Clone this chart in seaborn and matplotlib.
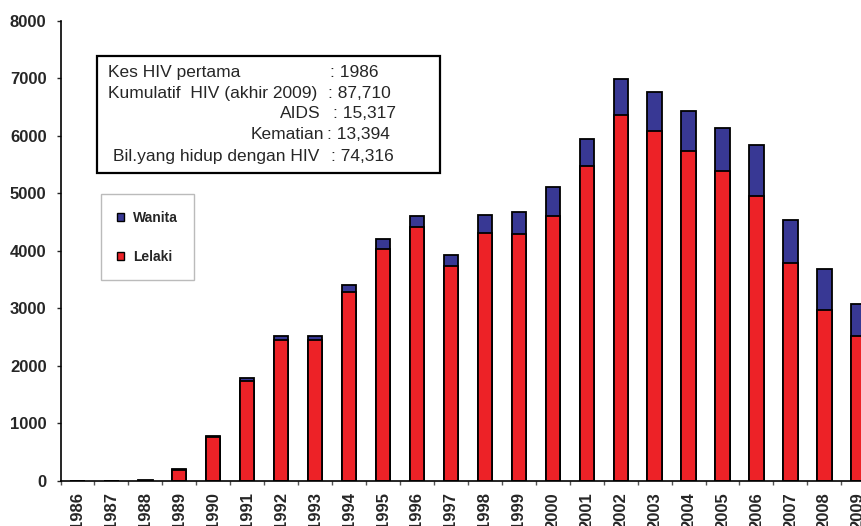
import numpy as np
import pandas as pd
import matplotlib
matplotlib.use("Agg")
import matplotlib.pyplot as plt
from matplotlib.patches import Patch, Rectangle
import seaborn as sns

# data
years = [str(y) for y in range(1986, 2010)]
lelaki = [3, 5, 8, 195, 765, 1738, 2444, 2444, 3290, 4036, 4408, 3736,
          4312, 4300, 4614, 5474, 6354, 6087, 5739, 5387, 4957, 3786, 2973, 2523]
wanita = [0, 0, 1, 5, 15, 57, 74, 70, 110, 175, 202, 197,
          306, 380, 488, 474, 631, 678, 695, 741, 887, 757, 710, 547]
yticks = [0, 1000, 2000, 3000, 4000, 5000, 6000, 7000, 8000]

info_labels = ["Kes HIV pertama", "Kumulatif  HIV (akhir 2009)", "AIDS",
               "Kematian", "Bil.yang hidup dengan HIV"]
info_values = [": 1986", ": 87,710", ": 15,317", ": 13,394", ": 74,316"]

RED = "#ED2227"
BLUE = "#383894"
W, H = 861, 526


def fx(px):  # pixel -> figure fraction
    return px / W


def fy(py):
    return 1 - py / H


def main():
    sns.set_style("ticks")
    plt.rcParams["font.family"] = ["Liberation Sans", "DejaVu Sans"]

    frame = pd.DataFrame({"year": years, "lelaki": lelaki, "wanita": wanita})
    frame["total"] = frame["lelaki"] + frame["wanita"]

    fig = plt.figure(figsize=(W / 100, H / 100), dpi=100)
    # axes runs past the right edge like the original (2009 bar is cut off)
    ax = fig.add_axes([fx(60.5), fy(481), fx(814.8), (481 - 20.7) / H])

    sns.barplot(data=frame, x="year", y="total", color=BLUE, saturation=1,
                edgecolor="black", linewidth=1.3, width=0.42, ax=ax)
    sns.barplot(data=frame, x="year", y="lelaki", color=RED, saturation=1,
                edgecolor="black", linewidth=1.3, width=0.42, ax=ax)

    ax.set_xlim(-0.5, len(years) - 0.5)
    ax.set_ylim(0, 8000)
    ax.set_yticks(yticks)
    ax.set_xlabel("")
    ax.set_ylabel("")
    sns.despine(ax=ax)
    for s in ["left", "bottom"]:
        ax.spines[s].set_linewidth(1.2)
        ax.spines[s].set_color("black")

    ax.set_xticks(range(len(years)))
    ax.set_xticklabels(years, rotation=90, fontsize=12, fontweight="bold")
    ax.set_xticks(np.arange(-0.5, len(years), 1), minor=True)
    ax.tick_params(axis="x", which="major", length=0, pad=8)
    ax.tick_params(axis="x", which="minor", length=3, width=1, color="#555555")
    ax.tick_params(axis="y", length=3, width=1, pad=7, labelsize=12)
    for lab in ax.get_yticklabels():
        lab.set_fontweight("bold")

    # info box
    fig.add_artist(Rectangle((fx(97), fy(173.3)), fx(440 - 97), (173.3 - 55.7) / H,
                             transform=fig.transFigure, fill=False,
                             edgecolor="black", linewidth=1.6))
    label_x = [(108, "left"), (108, "left"), (320.7, "right"), (324, "right"), (113, "left")]
    value_x = [330, 328, 332.7, 327, 330.7]
    line_y = [72.3, 93.3, 114, 135, 156.7]
    for i in range(len(info_labels)):
        fig.text(fx(label_x[i][0]), fy(line_y[i]), info_labels[i], ha=label_x[i][1],
                 va="center", fontsize=12.5)
        fig.text(fx(value_x[i]), fy(line_y[i]), info_values[i], ha="left",
                 va="center", fontsize=12.5)

    handles = [Patch(facecolor=BLUE, edgecolor="black", linewidth=1),
               Patch(facecolor=RED, edgecolor="black", linewidth=1)]
    leg = ax.legend(handles=handles, labels=["Wanita", "Lelaki"], loc="upper left",
                    bbox_to_anchor=(fx(100.7), fy(194)), bbox_transform=fig.transFigure,
                    prop={"weight": "bold", "size": 10}, handlelength=0.5,
                    handleheight=0.5, handletextpad=0.6, labelspacing=1.8,
                    borderpad=1.2, borderaxespad=0, fancybox=False, framealpha=1)
    leg.get_frame().set_edgecolor("#BBBBBB")
    leg.get_frame().set_linewidth(1)

    fig.savefig("out.png", dpi=100)


main()
